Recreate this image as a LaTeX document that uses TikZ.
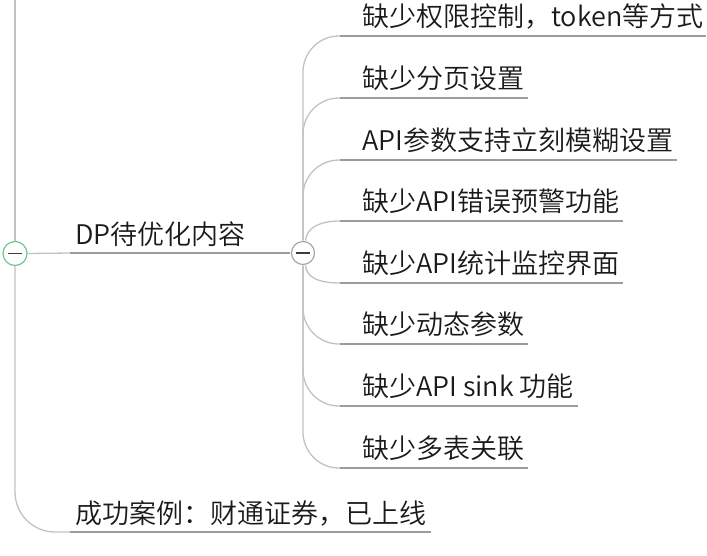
\documentclass[tikz,border=0pt]{standalone}
\usepackage{fontspec}
\setmainfont{Noto Sans CJK SC}[UprightFont={* DemiLight}]
\usetikzlibrary{calc}
\definecolor{txtcol}{HTML}{1A1A1A}
\definecolor{conncol}{HTML}{C2C2C2}
\definecolor{ulinecol}{HTML}{9C9C9C}
\definecolor{foldgreen}{HTML}{6CC790}
\definecolor{foldgray}{HTML}{A8A8A8}
\begin{document}
\begin{tikzpicture}[x=1pt,y=-1pt,
  conn/.style={draw=conncol, line width=1.3pt},
  uline/.style={draw=ulinecol, line width=1.3pt},
  lbl/.style={anchor=base west, inner sep=0pt, text=txtcol, font=\fontsize{27}{31}\selectfont},
  foldbtn/.style={circle, fill=white, minimum size=24pt, inner sep=0pt, line width=1.2pt},
  minus/.style={draw=txtcol!85, line width=1.6pt}]
\useasboundingbox (0,0) rectangle (707,555);
% coordinates
\coordinate (top) at (15,0);
\coordinate (dpL) at (70,253);
\coordinate (bl) at (70,532);
\coordinate (s1) at (340,36);
\coordinate (s2) at (340,98);
\coordinate (s3) at (340,160);
\coordinate (s4) at (340,221);
\coordinate (s5) at (340,283);
\coordinate (s6) at (340,344);
\coordinate (s7) at (340,406);
\coordinate (s8) at (340,468);
% fold buttons (placed first for names; redrawn on top later)
\path (15,253.5) node[foldbtn] (c0) {};
\path (303,253) node[foldbtn] (c1) {};
% labels
\node[lbl] (dp) at (75,244) {DP待优化内容};
\node[lbl] (k1) at (362,26.5) {缺少权限控制，token等方式};
\node[lbl] (k2) at (362,88.5) {缺少分页设置};
\node[lbl] (k3) at (362,150.5) {API参数支持立刻模糊设置};
\node[lbl] (k4) at (362,211.5) {缺少API错误预警功能};
\node[lbl] (k5) at (362,273.5) {缺少API统计监控界面};
\node[lbl] (k6) at (362,334.5) {缺少动态参数};
\node[lbl] (k7) at (362,396.5) {缺少API sink 功能};
\node[lbl] (k8) at (362,458.5) {缺少多表关联};
\node[lbl] (bt) at (75,523) {成功案例：财通证券，已上线};
% connectors
\draw[conn] (top) -- (c0.north);
\draw[conn] (c0.east) -- (dpL);
\draw[uline] (dpL) -- (c1.west);
\draw[conn, rounded corners=40pt] (c0.south) |- (bl);
\draw[uline] (bl) -- ($(bt.base east)+(5,9)$);
\draw[conn, rounded corners=36pt] (c1.north) |- (s1);
\draw[conn, rounded corners=36pt] (c1.north) |- (s2);
\draw[conn, rounded corners=36pt] (c1.north) |- (s3);
\draw[conn] (c1.78) .. controls (306,229) and (318,221) .. (s4);
\draw[conn] (c1.-78) .. controls (306,277) and (318,283) .. (s5);
\draw[conn, rounded corners=36pt] (c1.south) |- (s6);
\draw[conn, rounded corners=36pt] (c1.south) |- (s7);
\draw[conn, rounded corners=36pt] (c1.south) |- (s8);
\draw[uline] (s1) -- ($(k1.base east)+(2,9.5)$);
\draw[uline] (s2) -- ($(k2.base east)+(4,9.5)$);
\draw[uline] (s3) -- ($(k3.base east)+(4,9.5)$);
\draw[uline] (s4) -- ($(k4.base east)+(4,9.5)$);
\draw[uline] (s5) -- ($(k5.base east)+(4,9.5)$);
\draw[uline] (s6) -- ($(k6.base east)+(4,9.5)$);
\draw[uline] (s7) -- ($(k7.base east)+(4,9.5)$);
\draw[uline] (s8) -- ($(k8.base east)+(4,9.5)$);
% fold buttons on top
\draw[foldbtn, draw=foldgreen] (c0.center) circle (12pt);
\draw[foldbtn, draw=foldgray] (c1.center) circle (11.5pt);
\draw[minus] ($(c0.center)+(-7,0)$) -- ($(c0.center)+(7,0)$);
\draw[minus] ($(c1.center)+(-7,0)$) -- ($(c1.center)+(7,0)$);
\end{tikzpicture}
\end{document}
